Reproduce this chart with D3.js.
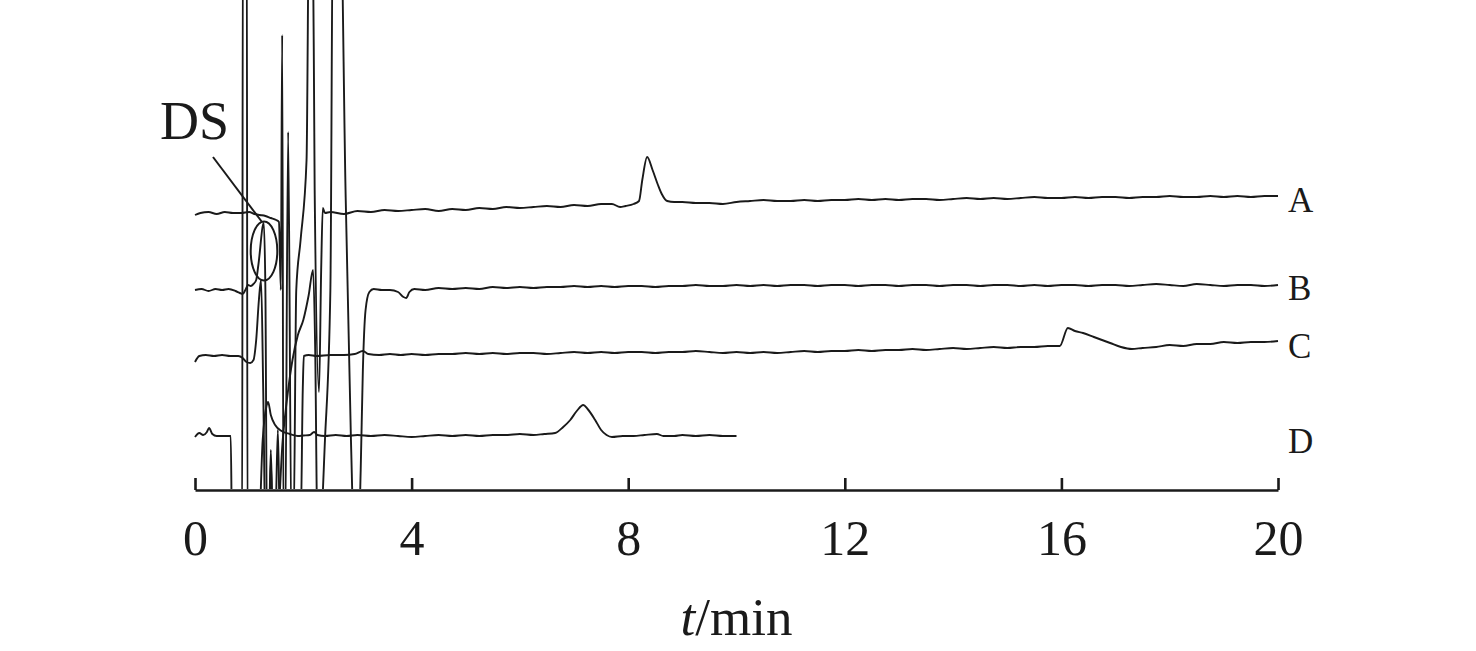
<!DOCTYPE html>
<html>
<head>
<meta charset="utf-8">
<script src="https://cdn.jsdelivr.net/npm/d3@7/dist/d3.min.js"></script>
<style>
  html, body { margin: 0; padding: 0; background: #fff; }
  svg { display: block; }
</style>
</head>
<body>
<svg id="chart" width="1476" height="651"></svg>
<script>
// ---- data: [time (min), detector response (arbitrary units, stacked offset)] ----
const xTicks = [0, 4, 8, 12, 16, 20];
const traceLabels = ["A", "B", "C", "D"];
const labelValues = [27.8, 19.0, 13.2, 3.7];

const traceA = [
  [0,27.5],[0.1,27.7],[0.25,27.8],[0.4,27.6],[0.55,27.8],[0.7,27.7],[0.85,27.7],[1.0,27.8],
  [1.1,27.6],[1.2,27.5],[1.3,27.4],[1.4,27.2],[1.5,27.0],[1.55,26.8],[1.585,20],[1.61,45.5],
  [1.635,-5],[1.665,-5],[1.72,35.8],[1.78,-4],[1.82,-4],[1.87,20],[1.95,25],[2.06,33],
  [2.11,60],[2.17,60],[2.21,30],[2.29,9.8],[2.33,22],[2.36,28.2],[2.40,27.7],
  [2.5,27.8],[2.75,27.6],[3.0,27.9],[3.25,27.8],[3.5,28.0],[3.75,27.9],[4.0,28.0],[4.25,28.1],
  [4.5,27.9],[4.75,28.1],[5.0,28.0],[5.25,28.2],[5.5,28.1],[5.75,28.3],[6.0,28.2],[6.25,28.3],
  [6.5,28.4],[6.75,28.3],[7.0,28.5],[7.25,28.4],[7.5,28.6],[7.7,28.6],[7.85,28.3],[7.95,28.4],
  [8.1,28.6],[8.2,28.9],[8.26,31],[8.35,33.3],[8.45,32],[8.55,30.5],[8.62,29.6],[8.72,28.9],
  [8.85,28.8],[9.0,28.8],[9.25,28.7],[9.5,28.7],[9.75,28.6],[10.0,28.8],[10.25,28.9],[10.5,29.0],
  [10.75,28.9],[11.0,28.9],[11.25,29.0],[11.5,28.9],[11.75,29.0],[12.0,29.0],[12.25,29.1],
  [12.5,29.0],[12.75,29.1],[13.0,29.0],[13.25,29.1],[13.5,29.1],[13.75,29.0],[14.0,29.1],
  [14.25,29.2],[14.5,29.1],[14.75,29.2],[15.0,29.1],[15.25,29.2],[15.5,29.3],[15.75,29.2],
  [16.0,29.2],[16.25,29.3],[16.5,29.2],[16.75,29.3],[17.0,29.3],[17.25,29.2],[17.5,29.3],
  [17.75,29.3],[18.0,29.4],[18.25,29.3],[18.5,29.3],[18.75,29.4],[19.0,29.3],[19.25,29.4],
  [19.5,29.3],[19.75,29.4],[20.0,29.4]
];

const traceB = [
  [0,20.0],[0.12,20.1],[0.25,19.9],[0.38,20.1],[0.5,20.0],[0.62,20.1],[0.75,19.9],[0.83,19.7],
  [0.88,19.6],[0.93,20.0],[0.98,20.5],[1.03,20.4],[1.08,20.6],[1.13,21.0],[1.17,22.5],
  [1.27,26.7],[1.30,20],[1.33,-5],[1.37,-5],[1.4,3],[1.44,-5],[1.5,-5],[1.62,5],[1.72,10],
  [1.8,13],[1.9,15.5],[2.0,17],[2.1,19.5],[2.18,22],[2.22,14],[2.26,-4],[2.3,-5],[2.4,5],
  [2.5,20],[2.55,60],[2.68,60],[2.78,30],[2.88,5],[2.94,-5],[3.02,-5],[3.06,2],[3.1,12],
  [3.15,18],[3.22,19.8],[3.3,20.1],[3.45,20.0],[3.6,20.0],[3.75,19.8],[3.85,19.3],[3.9,19.2],
  [3.96,19.8],[4.05,20.1],[4.25,20.0],[4.5,20.2],[4.75,20.1],[5.0,20.2],[5.25,20.1],[5.5,20.3],
  [5.75,20.2],[6.0,20.3],[6.25,20.2],[6.5,20.3],[6.75,20.3],[7.0,20.4],[7.25,20.3],[7.5,20.4],
  [7.75,20.3],[8.0,20.4],[8.25,20.4],[8.5,20.3],[8.75,20.4],[9.0,20.4],[9.25,20.5],[9.5,20.4],
  [9.75,20.4],[10.0,20.5],[10.25,20.4],[10.5,20.5],[10.75,20.4],[11.0,20.5],[11.25,20.5],
  [11.5,20.4],[11.75,20.5],[12.0,20.5],[12.25,20.4],[12.5,20.5],[12.75,20.5],[13.0,20.4],
  [13.25,20.5],[13.5,20.5],[13.75,20.4],[14.0,20.5],[14.25,20.5],[14.5,20.4],[14.75,20.5],
  [15.0,20.5],[15.25,20.4],[15.5,20.5],[15.75,20.4],[16.0,20.5],[16.25,20.5],[16.5,20.4],
  [16.75,20.5],[17.0,20.5],[17.25,20.4],[17.5,20.5],[17.75,20.6],[18.0,20.5],[18.25,20.4],
  [18.5,20.6],[18.75,20.5],[19.0,20.4],[19.25,20.5],[19.5,20.5],[19.75,20.4],[20.0,20.5]
];

const traceC = [
  [0,12.8],[0.08,13.4],[0.2,13.5],[0.35,13.4],[0.5,13.5],[0.65,13.4],[0.8,13.4],[0.88,13.2],
  [0.95,12.8],[1.02,12.7],[1.08,13.0],[1.13,15],[1.18,19],[1.22,21],[1.26,10],[1.3,-4],
  [1.36,-5],[1.4,4],[1.44,-4],[1.48,-4],[1.53,6],[1.57,-4],[1.6,-4],[1.95,-4],[1.99,10],
  [2.01,13.4],[2.1,13.5],[2.25,13.4],[2.5,13.5],[2.75,13.5],[2.95,13.6],[3.1,13.9],[3.2,13.6],
  [3.4,13.5],[3.6,13.6],[3.8,13.5],[4.0,13.6],[4.25,13.5],[4.5,13.6],[4.75,13.6],[5.0,13.7],
  [5.25,13.6],[5.5,13.7],[5.75,13.6],[6.0,13.7],[6.25,13.7],[6.5,13.6],[6.75,13.7],[7.0,13.8],
  [7.25,13.7],[7.5,13.8],[7.75,13.7],[8.0,13.8],[8.25,13.8],[8.5,13.7],[8.75,13.8],[9.0,13.8],
  [9.25,13.9],[9.5,13.8],[9.75,13.7],[10.0,13.8],[10.25,13.7],[10.5,13.8],[10.75,13.7],
  [11.0,13.8],[11.25,13.9],[11.5,13.8],[11.75,13.9],[12.0,13.9],[12.25,14.0],[12.5,13.9],
  [12.75,14.0],[13.0,14.0],[13.25,14.1],[13.5,14.0],[13.75,14.1],[14.0,14.2],[14.25,14.1],
  [14.5,14.2],[14.75,14.3],[15.0,14.2],[15.25,14.3],[15.5,14.3],[15.75,14.4],[15.97,14.4],
  [16.12,16.2],[16.25,15.9],[16.4,15.7],[16.6,15.3],[16.9,14.7],[17.1,14.3],[17.3,14.1],
  [17.5,14.2],[17.75,14.3],[18.0,14.5],[18.25,14.4],[18.5,14.6],[18.75,14.6],[19.0,14.8],
  [19.25,14.7],[19.5,14.8],[19.75,14.8],[20.0,14.9]
];

const traceD = [
  [0,5.3],[0.08,5.7],[0.15,5.5],[0.22,5.8],[0.26,6.2],[0.32,5.6],[0.4,5.4],[0.5,5.4],[0.6,5.4],
  [0.66,5.4],[0.685,-5],[0.87,-5],[0.885,60],[0.955,60],[0.97,-5],[1.17,-5],[1.25,5],
  [1.32,8.4],[1.35,8.8],[1.4,7.5],[1.48,6.5],[1.6,5.9],[1.75,5.6],[1.9,5.4],[2.0,5.45],
  [2.12,5.5],[2.2,5.8],[2.26,5.5],[2.4,5.4],[2.6,5.5],[2.8,5.4],[3.0,5.5],[3.25,5.4],[3.5,5.5],
  [3.75,5.4],[4.0,5.3],[4.25,5.4],[4.5,5.5],[4.75,5.4],[5.0,5.5],[5.25,5.4],[5.5,5.5],
  [5.75,5.5],[6.0,5.6],[6.25,5.5],[6.45,5.6],[6.65,5.7],[6.8,6.3],[6.93,7.0],[7.05,7.9],
  [7.17,8.5],[7.25,8.1],[7.39,7.0],[7.5,6.0],[7.6,5.5],[7.7,5.3],[7.9,5.4],[8.1,5.4],
  [8.3,5.5],[8.53,5.6],[8.65,5.4],[8.85,5.4],[9.0,5.5],[9.25,5.4],[9.5,5.5],[9.75,5.4],[10.0,5.4]
];

const traces = [traceA, traceB, traceC, traceD];

// ---- drawing ----
const svg = d3.select("#chart");
svg.append("rect").attr("width", 1476).attr("height", 651).attr("fill", "#fff");

const x = d3.scaleLinear().domain([0, 20]).range([195, 1278]);
const y = d3.scaleLinear().domain([0, 49]).range([490, 0]);

svg.append("defs").append("clipPath").attr("id", "plotclip")
  .append("rect").attr("x", 185).attr("y", -20).attr("width", 1110).attr("height", 509);

const line = d3.line().x(d => x(d[0])).y(d => y(d[1])).curve(d3.curveMonotoneX);

const g = svg.append("g").attr("clip-path", "url(#plotclip)");
g.selectAll("path.trace").data(traces).enter().append("path")
  .attr("class", "trace")
  .attr("d", line)
  .attr("fill", "none")
  .attr("stroke", "#1a1a1a")
  .attr("stroke-width", 1.9)
  .attr("stroke-linejoin", "round");

// axis
const axis = d3.axisBottom(x).tickValues(xTicks).tickSizeInner(-12).tickSizeOuter(0)
  .tickFormat(d3.format("d"));
const ax = svg.append("g").attr("transform", "translate(0,490)").call(axis);
ax.select(".domain").attr("stroke", "#1a1a1a").attr("stroke-width", 2.6);
ax.selectAll(".tick line").attr("stroke", "#1a1a1a").attr("stroke-width", 2.6);
ax.selectAll(".tick text")
  .attr("y", 65).attr("dy", 0)
  .attr("fill", "#1a1a1a")
  .style("font-family", "'Liberation Serif', 'Times New Roman', serif")
  .style("font-size", "50px");

// axis title
const title = svg.append("text")
  .attr("x", x(10)).attr("y", 635)
  .attr("text-anchor", "middle")
  .attr("fill", "#1a1a1a")
  .style("font-family", "'Liberation Serif', 'Times New Roman', serif")
  .style("font-size", "53px");
title.append("tspan").style("font-style", "italic").text("t");
title.append("tspan").text("/min");

// trace labels
svg.selectAll("text.lab").data(traceLabels).enter().append("text")
  .attr("class", "lab")
  .attr("x", 1288)
  .attr("y", (d, i) => y(labelValues[i]))
  .attr("fill", "#1a1a1a")
  .style("font-family", "'Liberation Serif', 'Times New Roman', serif")
  .style("font-size", "35px")
  .text(d => d);

// DS annotation
svg.append("ellipse")
  .attr("cx", 264).attr("cy", 251).attr("rx", 13.3).attr("ry", 29.5)
  .attr("fill", "none").attr("stroke", "#1a1a1a").attr("stroke-width", 2);
svg.append("line")
  .attr("x1", 213).attr("y1", 157).attr("x2", 262).attr("y2", 222)
  .attr("stroke", "#1a1a1a").attr("stroke-width", 2);
svg.append("text")
  .attr("x", 160).attr("y", 139)
  .attr("fill", "#1a1a1a")
  .style("font-family", "'Liberation Serif', 'Times New Roman', serif")
  .style("font-size", "54px")
  .text("DS");
</script>
</body>
</html>
